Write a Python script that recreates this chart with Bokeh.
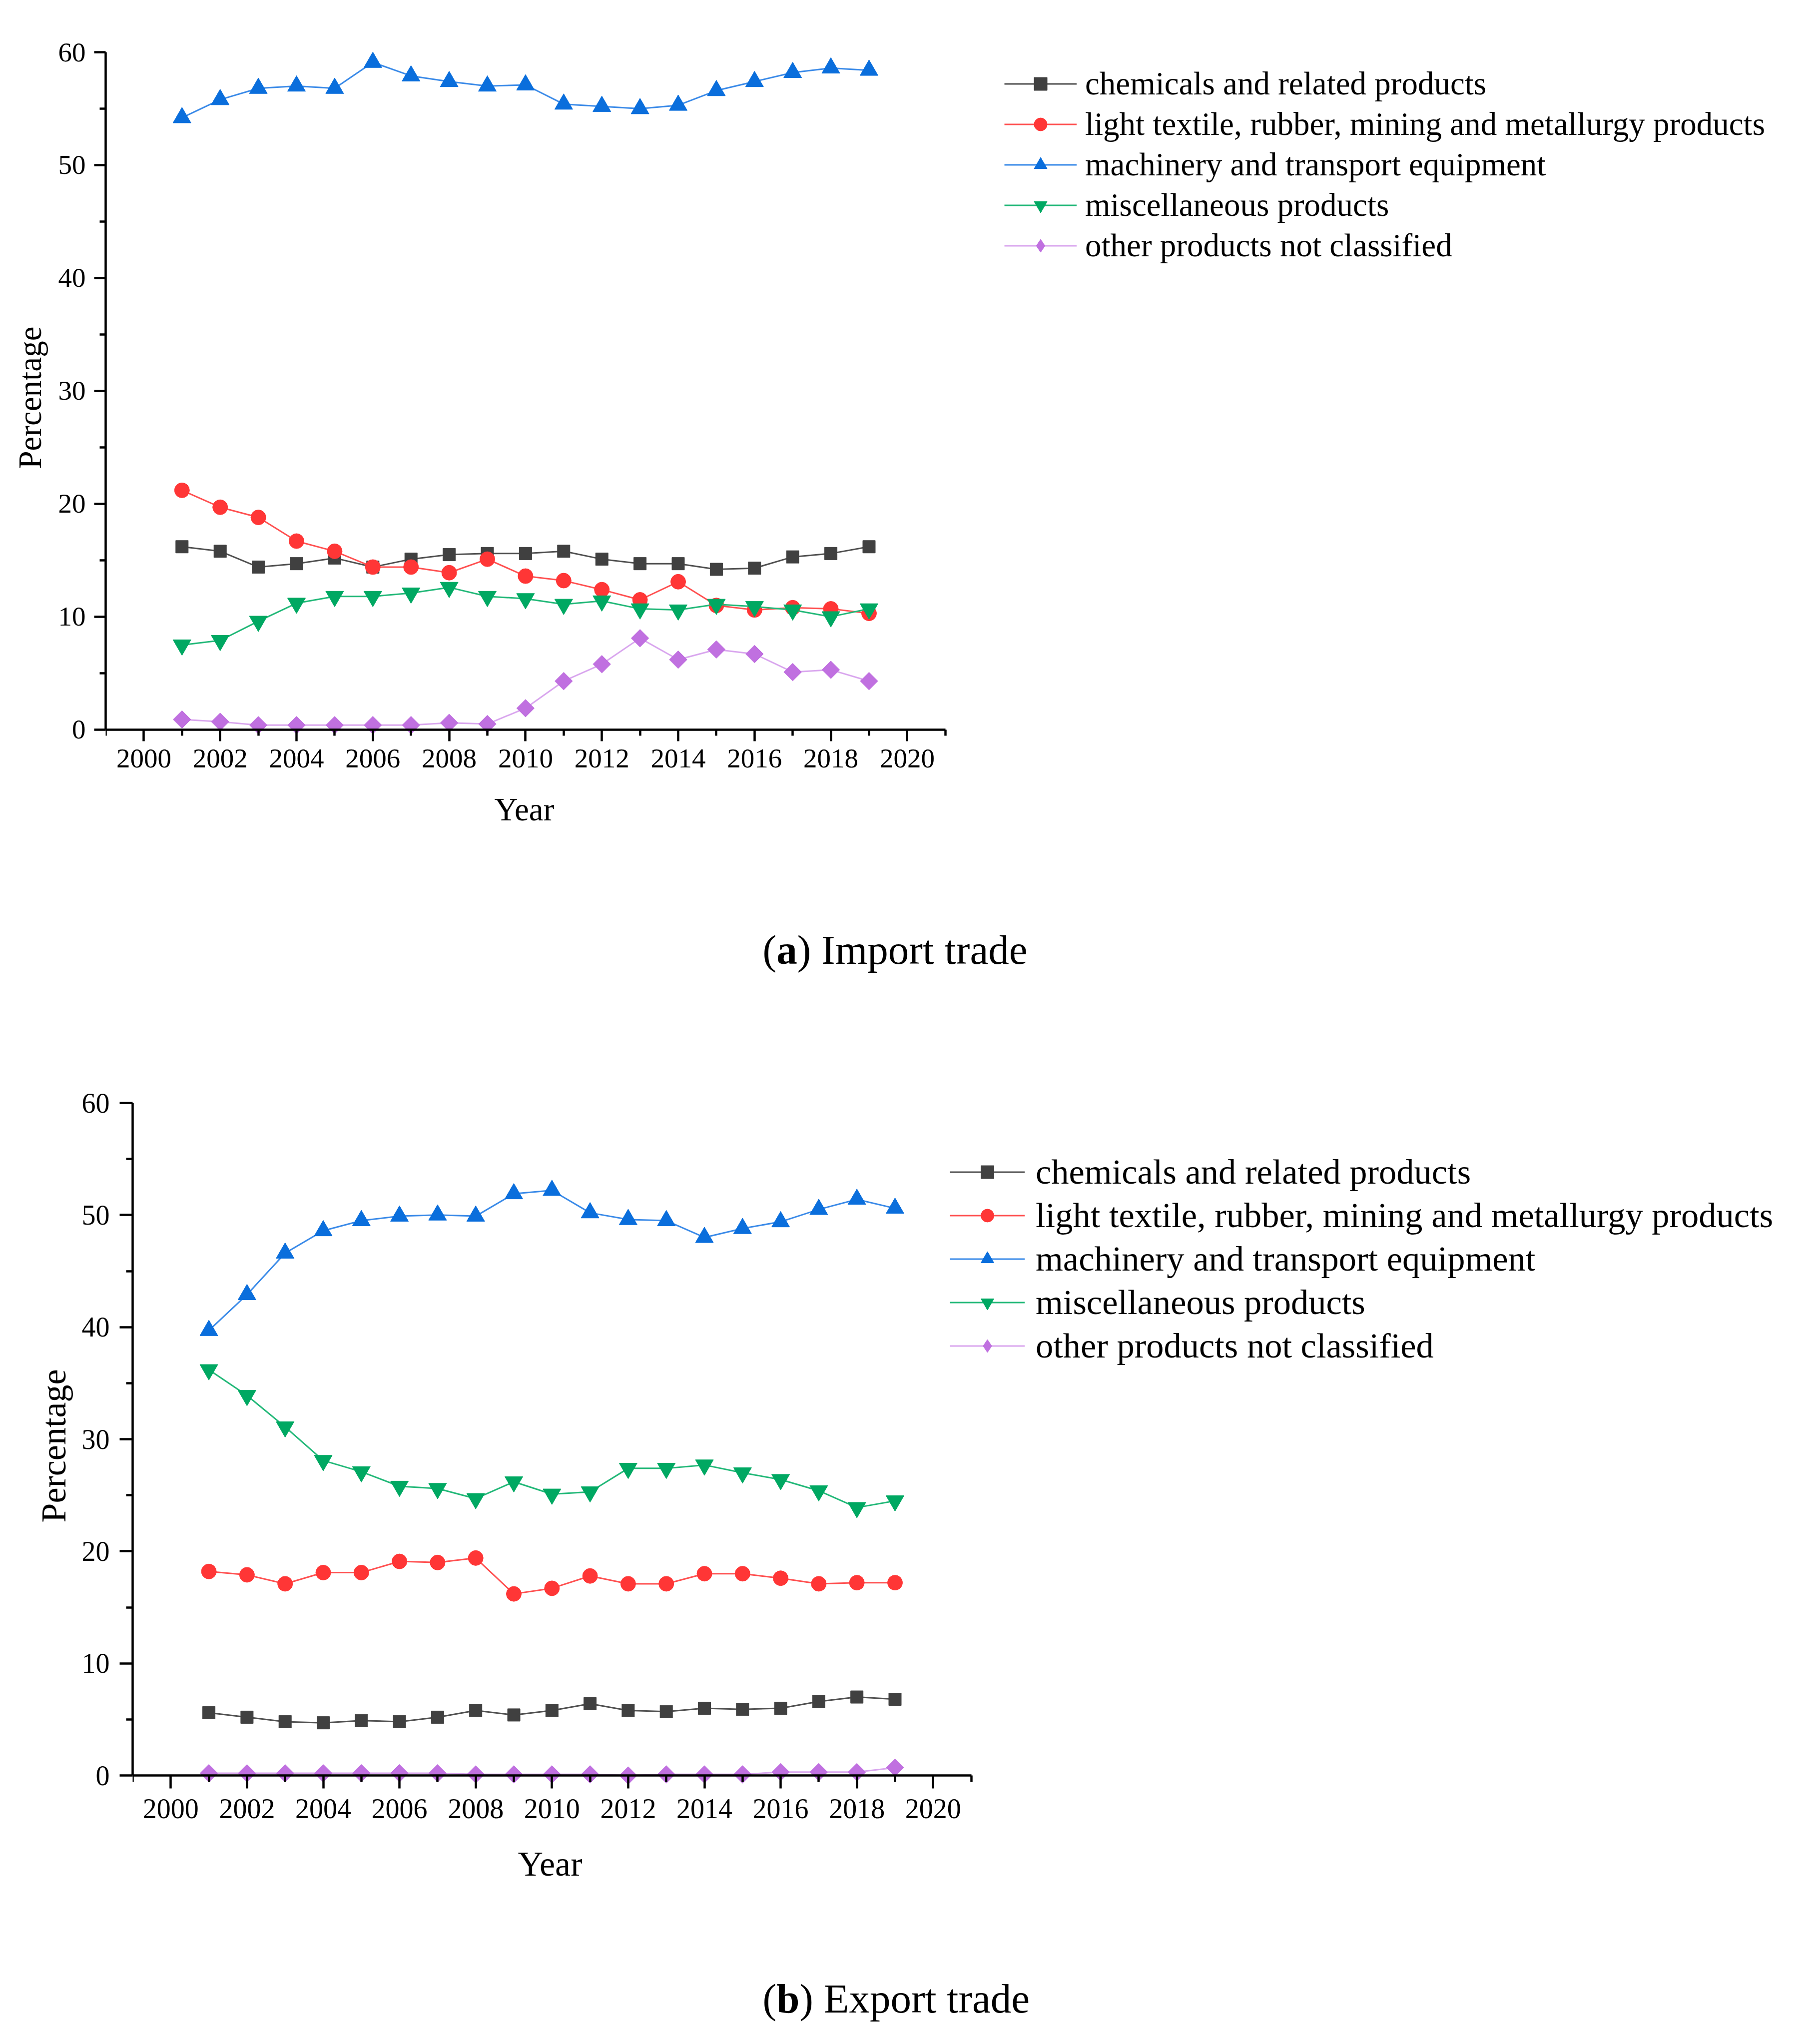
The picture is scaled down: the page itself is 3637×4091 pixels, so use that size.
import math
from bokeh.plotting import figure
from bokeh.models import (FixedTicker, Legend, LegendItem, Range1d, LinearAxis,
                          Title)
from bokeh.core.properties import value
from bokeh.embed import file_html
from bokeh.resources import INLINE

years = list(range(2001, 2020))

# (a) Import trade
imp_chem = [16.2, 15.8, 14.4, 14.7, 15.2, 14.4, 15.1, 15.5, 15.6, 15.6, 15.8, 15.1, 14.7, 14.7, 14.2, 14.3, 15.3, 15.6, 16.2]
imp_light = [21.2, 19.7, 18.8, 16.7, 15.8, 14.4, 14.4, 13.9, 15.1, 13.6, 13.2, 12.4, 11.5, 13.1, 11.0, 10.6, 10.8, 10.7, 10.3]
imp_mach = [54.2, 55.8, 56.8, 57.0, 56.8, 59.1, 57.9, 57.4, 57.0, 57.1, 55.4, 55.2, 55.0, 55.3, 56.6, 57.4, 58.2, 58.6, 58.4]
imp_misc = [7.5, 7.9, 9.6, 11.2, 11.8, 11.8, 12.1, 12.6, 11.8, 11.6, 11.1, 11.4, 10.7, 10.6, 11.1, 10.9, 10.6, 10.0, 10.7]
imp_other = [0.9, 0.7, 0.4, 0.4, 0.4, 0.4, 0.4, 0.6, 0.5, 1.9, 4.3, 5.8, 8.1, 6.2, 7.1, 6.7, 5.1, 5.3, 4.3]

# (b) Export trade
exp_chem = [5.6, 5.2, 4.8, 4.7, 4.9, 4.8, 5.2, 5.8, 5.4, 5.8, 6.4, 5.8, 5.7, 6.0, 5.9, 6.0, 6.6, 7.0, 6.8]
exp_light = [18.2, 17.9, 17.1, 18.1, 18.1, 19.1, 19.0, 19.4, 16.2, 16.7, 17.8, 17.1, 17.1, 18.0, 18.0, 17.6, 17.1, 17.2, 17.2]
exp_mach = [39.7, 42.9, 46.6, 48.6, 49.5, 49.9, 50.0, 49.9, 51.9, 52.2, 50.2, 49.6, 49.5, 48.0, 48.8, 49.4, 50.5, 51.4, 50.6]
exp_misc = [36.2, 33.9, 31.1, 28.1, 27.1, 25.8, 25.6, 24.7, 26.2, 25.1, 25.3, 27.4, 27.4, 27.7, 27.0, 26.4, 25.4, 23.9, 24.5]
exp_other = [0.2, 0.2, 0.2, 0.2, 0.2, 0.2, 0.2, 0.1, 0.1, 0.1, 0.1, 0.0, 0.1, 0.1, 0.1, 0.3, 0.3, 0.3, 0.7]

labels = ["chemicals and related products",
          "light textile, rubber, mining and metallurgy products",
          "machinery and transport equipment",
          "miscellaneous products",
          "other products not classified"]

x_major = list(range(2000, 2021, 2))
x_minor = list(range(1999, 2022, 2))
y_major = list(range(0, 61, 10))
y_minor = list(range(5, 60, 10))

FONT = "Liberation Serif"
PAGE_W = 3630
X0, X1 = 1999, 2021
Y0, Y1 = -1.2, 60

styles = [
    dict(marker="square", size=25, angle=0.0, color="#404040", line="#505050", legend_marker="square"),
    dict(marker="circle", size=30, angle=0.0, color="#FF3636", line="#FF5050", legend_marker="circle"),
    dict(marker="triangle", size=36, angle=0.0, color="#0A6EDC", line="#3A8AE8", legend_marker="triangle"),
    dict(marker="inverted_triangle", size=36, angle=0.0, color="#00A862", line="#22B878", legend_marker="inverted_triangle"),
    dict(marker="square", size=25, angle=math.pi / 4, color="#C070E0", line="#D9A6EE", legend_marker="diamond"),
]


def make_panel(series, fl, px_year, px_unit, bt, bb, tick_fs, lab_fs, leg_fs,
               leg_xy, leg_glyph_w, leg_standoff, leg_label_h, tick_len,
               ytick_standoff, ylab_standoff, xtick_standoff,
               year_offset, year_standoff):
    fw = PAGE_W - fl
    fh = round((Y1 - Y0) * px_unit)
    height = bt + fh + bb
    # frame runs to the right edge so that the legend sits inside it;
    # the axes themselves are bounded to 1999..2021
    x_end = X0 + fw / px_year
    p = figure(width=PAGE_W, height=height, output_backend="svg",
               toolbar_location=None, x_range=Range1d(X0, x_end),
               y_range=Range1d(Y0, Y1), min_border_left=fl,
               min_border_right=0, min_border_top=bt, min_border_bottom=bb,
               y_axis_label="Percentage")
    p.grid.visible = False
    p.outline_line_color = None
    p.background_fill_color = "white"

    items = []
    for vals, lab, st in zip(series, labels, styles):
        r1 = p.line(years, vals, line_color=st["line"], line_width=3)
        r2 = p.scatter(years, vals, marker=st["marker"], size=st["size"],
                       angle=st["angle"], fill_color=st["color"],
                       line_color=st["color"], line_width=1)
        if st["legend_marker"] == st["marker"] and st["angle"] == 0:
            rend = [r1, r2]
        else:
            # same points, drawn only as the legend's diamond symbol
            r3 = p.scatter(years, vals, marker=st["legend_marker"], size=25,
                           fill_color=st["color"], line_color=st["color"],
                           line_width=1, visible=False)
            rend = [r1, r3]
        items.append(LegendItem(label=lab, renderers=rend))

    # axis line and ticks at y = 0
    xa = p.xaxis[0]
    xa.fixed_location = 0
    xa.bounds = (X0, X1)
    xa.ticker = FixedTicker(ticks=x_major, minor_ticks=x_minor)
    xa.major_label_overrides = {t: "" for t in x_major}
    # tick labels below the frame
    xl = LinearAxis(bounds=(X0, X1),
                    ticker=FixedTicker(ticks=x_major, minor_ticks=[]))
    xl.axis_line_color = None
    xl.major_tick_line_color = None
    xl.minor_tick_line_color = None
    xl.major_tick_out = 0
    xl.major_tick_in = 0
    xl.minor_tick_out = 0
    xl.minor_tick_in = 0
    p.add_layout(xl, "below")
    # x-axis title, centred under the bounded axis
    p.add_layout(Title(text="Year", align="left", offset=year_offset,
                       standoff=year_standoff, text_font=FONT,
                       text_font_size=f"{lab_fs}px", text_font_style="normal",
                       text_color="black"), "below")

    ya = p.yaxis[0]
    ya.ticker = FixedTicker(ticks=y_major, minor_ticks=y_minor)
    ya.bounds = (0, 60)
    for ax in (xa, ya):
        ax.axis_line_width = 4.5
        ax.axis_line_color = "black"
        ax.major_tick_line_width = 4.5
        ax.minor_tick_line_width = 4.5
        ax.major_tick_line_color = "black"
        ax.minor_tick_line_color = "black"
        ax.major_tick_out = tick_len
        ax.major_tick_in = 0
        ax.minor_tick_out = round(tick_len / 2)
        ax.minor_tick_in = 0
    for ax in (xl, ya):
        ax.major_label_text_font = FONT
        ax.major_label_text_font_size = f"{tick_fs}px"
        ax.major_label_text_color = "black"
        ax.axis_label_text_font = FONT
        ax.axis_label_text_font_size = f"{lab_fs}px"
        ax.axis_label_text_font_style = "normal"
        ax.axis_label_text_color = "black"
    ya.major_label_standoff = ytick_standoff
    ya.axis_label_standoff = ylab_standoff
    xl.major_label_standoff = xtick_standoff
    ya.major_label_orientation = "horizontal"

    leg = Legend(items=items, location=leg_xy, glyph_width=leg_glyph_w,
                 glyph_height=65, label_height=leg_label_h,
                 label_standoff=leg_standoff, spacing=1, padding=0, margin=0,
                 border_line_color=None, background_fill_alpha=0,
                 label_text_font=FONT, label_text_font_size=f"{leg_fs}px",
                 label_text_color="black")
    p.add_layout(leg, "center")
    return p


def make_caption(height, x, y, letter, letter_w, rest, fs):
    c = figure(width=PAGE_W, height=height, output_backend="svg",
               toolbar_location=None, x_range=Range1d(0, PAGE_W),
               y_range=Range1d(0, height), min_border=0,
               x_axis_location=None, y_axis_location=None)
    c.grid.visible = False
    c.outline_line_color = None
    w_open = 0.333 * fs
    w_let = letter_w * fs
    common = dict(text_font=value(FONT), text_font_size=f"{fs}px",
                  text_baseline="middle", text_align="left",
                  text_color="black")
    c.text(x=[x], y=[y], text=["("], **common)
    c.text(x=[x + w_open], y=[y], text=[letter], text_font_style="bold",
           **common)
    c.text(x=[x + w_open + w_let], y=[y], text=[")" + rest], **common)
    return c


pa = make_panel([imp_chem, imp_light, imp_mach, imp_misc, imp_other],
                fl=211, px_year=76.4, px_unit=22.6, bt=104, bb=213,
                tick_fs=55, lab_fs=65, leg_fs=65,
                leg_xy=(1799, 956), leg_glyph_w=145, leg_standoff=17,
                leg_label_h=80, tick_len=23,
                ytick_standoff=17, ylab_standoff=18,
                xtick_standoff=12, year_offset=778, year_standoff=86)
ca = make_caption(320, 1526, 120, "a", 0.5, " Import trade", 83)

pb = make_panel([exp_chem, exp_light, exp_mach, exp_misc, exp_other],
                fl=265, px_year=76.3, px_unit=22.43, bt=187, bb=240,
                tick_fs=56, lab_fs=70, leg_fs=70.5,
                leg_xy=(1636, 844), leg_glyph_w=150, leg_standoff=22,
                leg_label_h=86, tick_len=26,
                ytick_standoff=20, ylab_standoff=15,
                xtick_standoff=20, year_offset=771, year_standoff=96)
cb = make_caption(260, 1526, 81, "b", 0.556, " Export trade", 83)

open("out.html", "w").write(file_html([pa, ca, pb, cb], INLINE))
